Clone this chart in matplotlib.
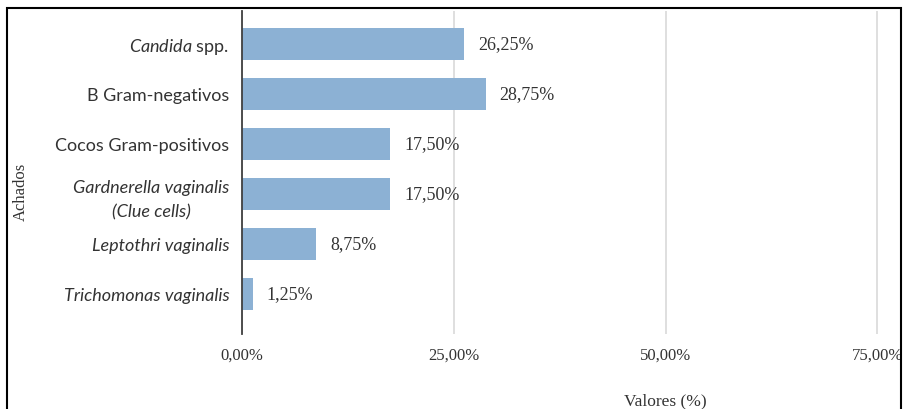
import matplotlib
matplotlib.use("Agg")
import matplotlib.pyplot as plt
from matplotlib.patches import Rectangle
from matplotlib.ticker import FuncFormatter

plt.rcParams['mathtext.fontset'] = 'custom'
plt.rcParams['mathtext.rm'] = 'Lato'
plt.rcParams['mathtext.it'] = 'Lato:italic'

# data
categorias = [r"$\it{Candida}$ spp.", "B Gram-negativos", "Cocos Gram-positivos",
              "Gardnerella vaginalis\n(Clue cells)", "Leptothri vaginalis",
              "Trichomonas vaginalis"]
italico = [False, False, False, True, True, True]
valores = [26.25, 28.75, 17.50, 17.50, 8.75, 1.25]
xticks = [0, 25, 50, 75]

def fmt(v):
    return f"{v:.2f}%".replace(".", ",")

fig = plt.figure(figsize=(9.05, 4.10), dpi=100)
# axis runs to 100% but the picture is cropped at ~78%
ax = fig.add_axes([242/905, 1-335/410, 847/905, 323/410])

pos = list(range(len(categorias)))
bars = ax.barh(pos, valores, height=0.64, color="#8cb1d4", zorder=3)
ax.bar_label(bars, labels=[fmt(v) for v in valores], padding=10,
             fontsize=13, family="Liberation Serif", color="#333333")

ax.set_ylim(5.8, -0.66)
ax.set_xlim(0, 100)
ax.set_yticks(pos)
ax.set_yticklabels(categorias, fontsize=13, family="Lato", color="#333333",
                   multialignment="center", linespacing=1.6)
for lab, it in zip(ax.get_yticklabels(), italico):
    if it:
        lab.set_style("italic")
ax.set_xticks(xticks)
ax.xaxis.set_major_formatter(FuncFormatter(lambda v, p: fmt(v)))
for lab in ax.get_xticklabels():
    lab.set_family("Liberation Serif")
    lab.set_fontsize(12)
    lab.set_color("#333333")
ax.tick_params(axis="both", length=0)
ax.tick_params(axis="y", pad=9)
ax.tick_params(axis="x", pad=9)

ax.grid(axis="x", color="#dcdcdc", linewidth=1.3, zorder=0)
for s in ["top", "right", "bottom"]:
    ax.spines[s].set_visible(False)
ax.spines["left"].set_color("#404040")
ax.spines["left"].set_linewidth(1.3)
ax.spines["left"].set_zorder(4)

ax.set_xlabel("Valores (%)", fontsize=12.5, family="Liberation Serif", color="#333333")
ax.xaxis.set_label_coords(0.5, -0.18)
ax.set_ylabel("Achados", fontsize=12, family="Liberation Serif", color="#333333")
ax.yaxis.set_label_coords(-0.252, 0.443)

fig.patches.append(Rectangle((7/905, -0.1), 894/905, 1.1 - 9/410, transform=fig.transFigure,
                             fill=False, edgecolor="black", linewidth=1.5, zorder=10))

fig.savefig("out.png", dpi=100)
